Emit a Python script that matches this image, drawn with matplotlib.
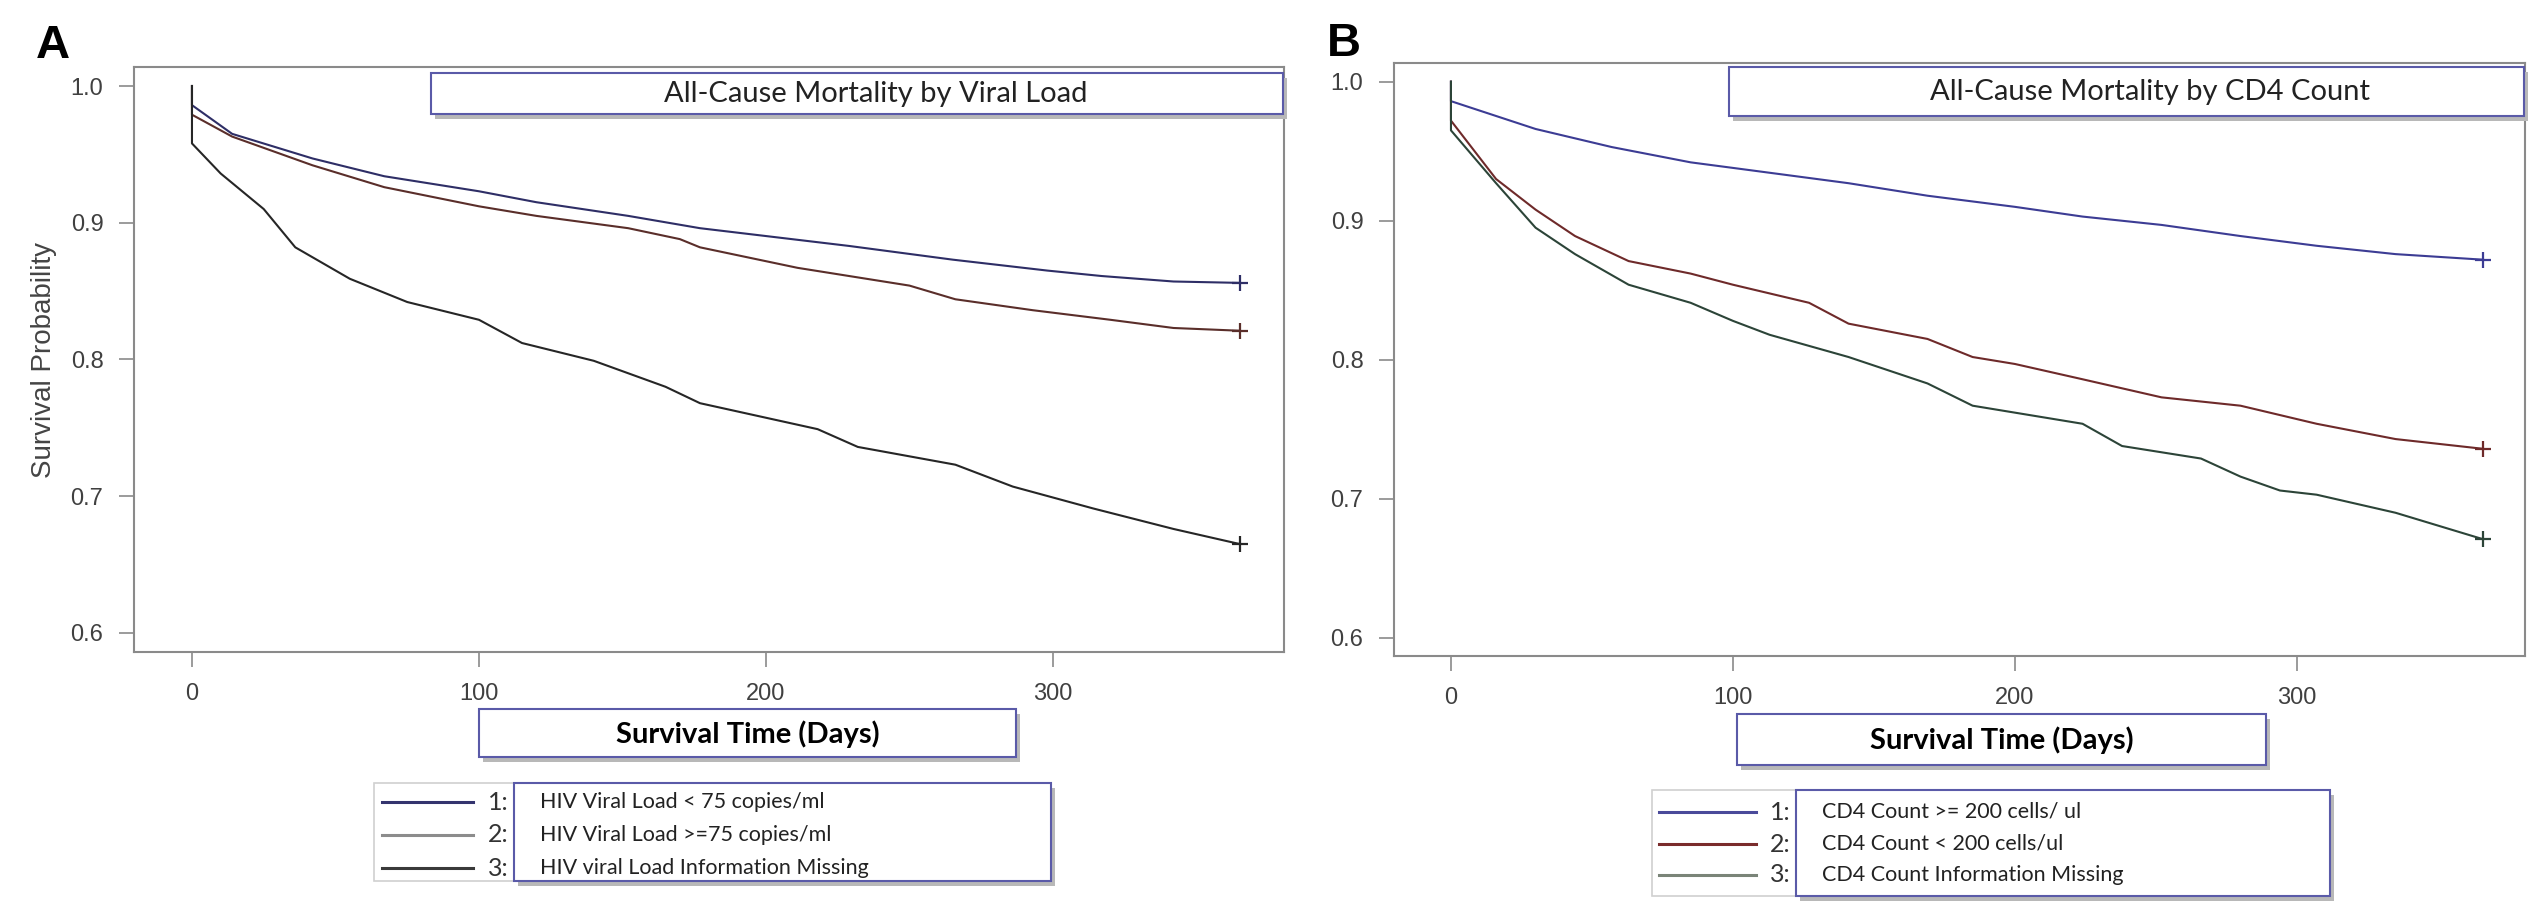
import matplotlib
matplotlib.use("Agg")
import matplotlib.pyplot as plt
from matplotlib.patches import Rectangle

# ---- data (days, survival probability) ----
# Panel A: by viral load
days_a1 = [0, 0, 14, 42, 67, 100, 120, 152, 177, 229, 265, 298, 317, 342, 365]
surv_a1 = [1.0, 0.986, 0.965, 0.947, 0.934, 0.923, 0.915, 0.905, 0.896, 0.883, 0.873, 0.865, 0.861, 0.857, 0.856]
days_a2 = [0, 0, 14, 42, 67, 100, 120, 152, 170, 177, 211, 250, 266, 293, 320, 342, 365]
surv_a2 = [1.0, 0.979, 0.963, 0.942, 0.926, 0.912, 0.905, 0.896, 0.888, 0.882, 0.867, 0.854, 0.844, 0.836, 0.829, 0.823, 0.821]
days_a3 = [0, 0, 10, 25, 36, 55, 75, 100, 115, 140, 165, 177, 218, 232, 266, 286, 314, 342, 365]
surv_a3 = [1.0, 0.958, 0.936, 0.910, 0.882, 0.859, 0.842, 0.829, 0.812, 0.799, 0.780, 0.768, 0.749, 0.736, 0.723, 0.707, 0.691, 0.676, 0.665]

# Panel B: by CD4 count
days_b1 = [0, 0, 30, 57, 85, 100, 141, 169, 200, 224, 252, 280, 307, 335, 366]
surv_b1 = [1.0, 0.986, 0.966, 0.953, 0.942, 0.938, 0.927, 0.918, 0.910, 0.903, 0.897, 0.889, 0.882, 0.876, 0.872]
days_b2 = [0, 0, 16, 30, 44, 63, 85, 100, 127, 141, 169, 185, 200, 224, 252, 280, 307, 335, 366]
surv_b2 = [1.0, 0.972, 0.930, 0.908, 0.889, 0.871, 0.862, 0.854, 0.841, 0.826, 0.815, 0.802, 0.797, 0.786, 0.773, 0.767, 0.754, 0.743, 0.736]
days_b3 = [0, 0, 16, 30, 44, 63, 85, 100, 113, 141, 169, 185, 200, 224, 238, 266, 280, 294, 307, 335, 366]
surv_b3 = [1.0, 0.965, 0.927, 0.895, 0.876, 0.854, 0.841, 0.828, 0.818, 0.802, 0.783, 0.767, 0.762, 0.754, 0.738, 0.729, 0.716, 0.706, 0.703, 0.690, 0.671]

labels_a = ["HIV Viral Load < 75 copies/ml", "HIV Viral Load >=75 copies/ml",
            "HIV viral Load Information Missing"]
labels_b = ["CD4 Count >= 200 cells/ ul", "CD4 Count < 200 cells/ul",
            "CD4 Count Information Missing"]
titles = ["All-Cause Mortality by Viral Load", "All-Cause Mortality by CD4 Count"]
x_ticks = [0, 100, 200, 300]
y_ticks = [0.6, 0.7, 0.8, 0.9, 1.0]

W, H = 2529, 902
fig = plt.figure(figsize=(W / 100, H / 100), dpi=100)
plt.rcParams['font.family'] = ['Liberation Sans', 'DejaVu Sans']
CAL = ["Lato", "DejaVu Sans"]


def px(x, y):
    # figure pixel (from top-left) -> figure fraction
    return x / W, 1 - y / H


def box(x0, y0, x1, y1, edge="#5a5aa8"):
    # shadowed box like the SAS annotation boxes
    fx, fy = px(x0 + 4, y1 + 5)
    fig.patches.append(Rectangle((fx, fy), (x1 - x0) / W, (y1 - y0) / H,
                                 transform=fig.transFigure, facecolor="#b8b8b8",
                                 edgecolor="none", zorder=1))
    fx, fy = px(x0, y1)
    fig.patches.append(Rectangle((fx, fy), (x1 - x0) / W, (y1 - y0) / H,
                                 transform=fig.transFigure, facecolor="white",
                                 edgecolor=edge, linewidth=1.5, zorder=2))


def style_axes(ax, xlim, ylim):
    ax.set_xlim(*xlim)
    ax.set_ylim(*ylim)
    ax.set_xticks(x_ticks)
    ax.set_yticks(y_ticks)
    ax.set_yticklabels(["0.6", "0.7", "0.8", "0.9", "1.0"])
    for s in ax.spines.values():
        s.set_color("#8a8a8a")
        s.set_linewidth(1.5)
    ax.tick_params(direction="out", length=11, width=1.2, color="#8a8a8a",
                   labelsize=17, labelcolor="#404040", pad=11)


def draw_panel(rect, xlim, ylim, series, colors):
    ax = fig.add_axes(rect)
    for (d, s), c in zip(series, colors):
        ax.plot(d, s, color=c, linewidth=1.5, zorder=3)
        ax.plot(d[-1], s[-1], marker="+", color=c, markersize=11, mew=1.6, zorder=3)
    style_axes(ax, xlim, ylim)
    return ax


# Panel A
ax_a = draw_panel([134 / W, 1 - 652 / H, 1150 / W, 585 / H], (-20.2, 380.5), (0.586, 1.0139),
                  [(days_a1, surv_a1), (days_a2, surv_a2), (days_a3, surv_a3)],
                  ["#2e2e66", "#5a2e2a", "#262626"])
ax_a.set_ylabel("Survival Probability", fontsize=20, color="#444444", labelpad=10)

# Panel B
ax_b = draw_panel([1394 / W, 1 - 656 / H, 1131 / W, 593.5 / H], (-20.2, 380.9), (0.587, 1.0138),
                  [(days_b1, surv_b1), (days_b2, surv_b2), (days_b3, surv_b3)],
                  ["#3c3c94", "#6e2a2a", "#2c4438"])

# panel letters
fig.text(*px(36, 58), "A", fontsize=34, fontweight="bold", ha="left", va="baseline")
fig.text(*px(1327, 56), "B", fontsize=34, fontweight="bold", ha="left", va="baseline")

# title boxes
box(431, 73, 1283, 114)
fig.text(*px(876, 94), titles[0], fontsize=21, family=CAL,
         ha="center", va="center", color="#222222", zorder=5)
box(1729, 67, 2524, 116)
fig.text(*px(2150, 92), titles[1], fontsize=21, family=CAL,
         ha="center", va="center", color="#222222", zorder=5)

# x label boxes
box(479, 709, 1016, 757)
fig.text(*px(748, 734), "Survival Time (Days)", fontsize=21, fontweight="bold",
         family=CAL, ha="center", va="center", zorder=5)
box(1737, 714, 2266, 765)
fig.text(*px(2002, 740), "Survival Time (Days)", fontsize=21, fontweight="bold",
         family=CAL, ha="center", va="center", zorder=5)


def legend(x_out, x_in, x_right, y_top, y_bot, line_x, num_x, rows, labels, colors):
    fx, fy = px(x_out, y_bot)
    fig.patches.append(Rectangle((fx, fy), (x_in - x_out) / W, (y_bot - y_top) / H,
                                 transform=fig.transFigure, facecolor="white",
                                 edgecolor="#d0d0d0", linewidth=1.2, zorder=1))
    box(x_in, y_top, x_right, y_bot)
    for i, (lab, c, yy) in enumerate(zip(labels, colors, rows)):
        x0, y0 = px(line_x[0], yy)
        x1, _ = px(line_x[1], yy)
        fig.add_artist(plt.Line2D([x0, x1], [y0, y0], transform=fig.transFigure,
                                  color=c, linewidth=2.2, zorder=4))
        fig.text(*px(num_x, yy), f"{i + 1}:", fontsize=18, family=CAL,
                 ha="left", va="center", color="#333333", zorder=5)
        fig.text(*px(x_in + 26, yy), lab, fontsize=15.5, family=CAL,
                 ha="left", va="center", color="#222222", zorder=5)


legend(374, 514, 1051, 783, 881, (382, 473), 488, [802, 835, 868], labels_a,
       ["#34346e", "#8c8c8c", "#3a3a3a"])
legend(1652, 1796, 2330, 790, 896, (1659, 1756), 1770, [812, 844, 875], labels_b,
       ["#4a4a9a", "#7a2c2c", "#7a8478"])

fig.savefig("out.png", dpi=100, facecolor="white")
